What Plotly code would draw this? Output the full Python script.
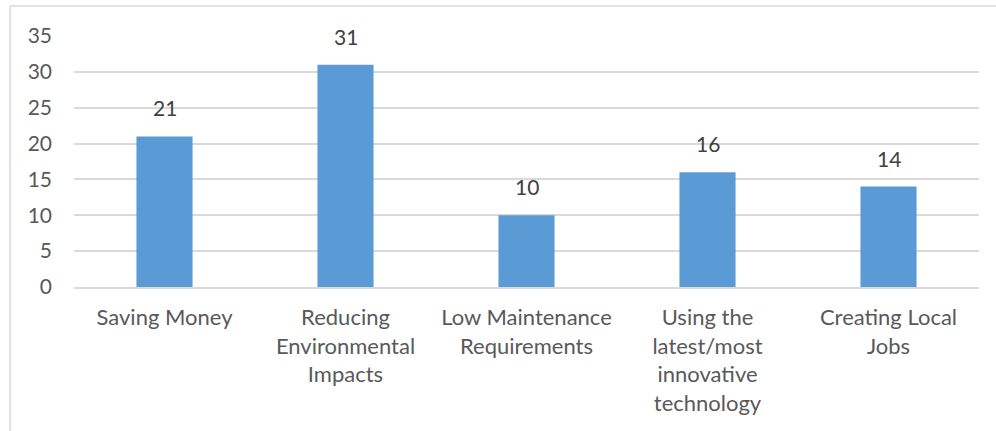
import plotly.graph_objects as go

categories = ["Saving Money", "Reducing<br>Environmental<br>Impacts", "Low Maintenance<br>Requirements",
              "Using the<br>latest/most<br>innovative<br>technology", "Creating Local<br>Jobs"]
values = [21, 31, 10, 16, 14]
y_ticks = [0, 5, 10, 15, 20, 25, 30, 35]

FONT = "Lato, 'Open Sans', sans-serif"
BAR = "#5B9BD5"
GRID = "#D9D9D9"

fig = go.Figure()
fig.add_trace(go.Bar(x=categories, y=values, marker=dict(color=BAR, line=dict(width=0)),
                     hoverinfo="x+y"))

for c, v in zip(categories, values):
    fig.add_annotation(x=c, y=v, text=str(v), showarrow=False, yanchor="bottom", yshift=14,
                       font=dict(family=FONT, size=21, color="#404040"))

fig.update_layout(
    width=996, height=431,
    margin=dict(l=74, r=17, t=36, b=144),
    paper_bgcolor="white", plot_bgcolor="white",
    bargap=0.69, showlegend=False,
    font=dict(family=FONT, size=21, color="#595959"),
    xaxis=dict(showgrid=False, showline=True, linecolor=GRID, linewidth=1.5,
               tickfont=dict(family=FONT, size=22, color="#595959"),
               ticks="", ticklabelstandoff=10, tickangle=0),
    yaxis=dict(range=[0, 35], tickvals=y_ticks, showgrid=True, gridcolor=GRID, gridwidth=1.5,
               zeroline=False, showline=False, ticks="", ticklabelstandoff=21,
               tickfont=dict(family=FONT, size=21, color="#595959")),
    shapes=[
        dict(type="line", xref="paper", yref="paper", x0=-0.0707, x1=1.02, y0=1.1195, y1=1.1195,
             line=dict(color=GRID, width=1.5)),
        dict(type="line", xref="paper", yref="paper", x0=-0.0707, x1=-0.0707, y0=1.1195, y1=-0.58,
             line=dict(color=GRID, width=1.5)),
    ],
)

fig.write_html("out.html")
